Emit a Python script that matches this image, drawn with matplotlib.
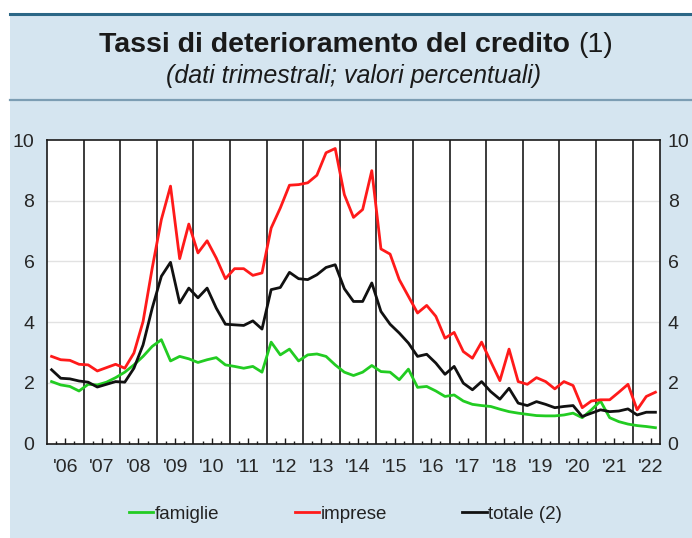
import numpy as np
import pandas as pd
import matplotlib.pyplot as plt
from matplotlib.patches import Rectangle
from matplotlib.lines import Line2D

# quarterly data, 2006Q1 - 2022Q3 (percent)
quarters = pd.period_range('2006Q1', '2022Q3', freq='Q')

famiglie = [2.04, 1.93, 1.88, 1.73, 1.95, 1.93, 2.02, 2.17, 2.35, 2.59,
            2.87, 3.20, 3.42, 2.72, 2.87, 2.79, 2.67, 2.76, 2.83, 2.59,
            2.54, 2.48, 2.54, 2.35, 3.34, 2.92, 3.11, 2.72, 2.92, 2.95,
            2.87, 2.59, 2.35, 2.24, 2.35, 2.57, 2.37, 2.35, 2.10, 2.45,
            1.85, 1.88, 1.73, 1.55, 1.60, 1.40, 1.29, 1.25, 1.22, 1.13,
            1.05, 1.00, 0.96, 0.92, 0.91, 0.91, 0.94, 1.00, 0.85, 1.11,
            1.40, 0.85, 0.72, 0.64, 0.59, 0.56, 0.52]

imprese = [2.87, 2.76, 2.74, 2.61, 2.59, 2.39, 2.50, 2.61, 2.48, 2.98,
           4.02, 5.78, 7.38, 8.48, 6.09, 7.23, 6.28, 6.68, 6.11, 5.43,
           5.76, 5.76, 5.54, 5.62, 7.10, 7.76, 8.51, 8.53, 8.59, 8.84,
           9.58, 9.72, 8.20, 7.45, 7.71, 8.99, 6.41, 6.24, 5.40, 4.85,
           4.30, 4.55, 4.19, 3.47, 3.66, 3.03, 2.81, 3.34, 2.70, 2.07,
           3.11, 2.04, 1.95, 2.17, 2.04, 1.80, 2.04, 1.91, 1.18, 1.40,
           1.44, 1.44, 1.69, 1.95, 1.11, 1.55, 1.69]

totale = [2.43, 2.15, 2.13, 2.06, 2.02, 1.86, 1.95, 2.04, 2.02, 2.48,
          3.25, 4.46, 5.51, 5.97, 4.63, 5.12, 4.80, 5.12, 4.46, 3.93,
          3.91, 3.89, 4.04, 3.77, 5.07, 5.14, 5.64, 5.43, 5.40, 5.56,
          5.80, 5.89, 5.10, 4.68, 4.68, 5.29, 4.35, 3.93, 3.64, 3.31,
          2.87, 2.94, 2.65, 2.28, 2.54, 1.99, 1.77, 2.04, 1.71, 1.46,
          1.82, 1.33, 1.25, 1.38, 1.29, 1.18, 1.22, 1.25, 0.89, 1.00,
          1.11, 1.05, 1.07, 1.14, 0.94, 1.03, 1.03]

years = list(range(2006, 2023))
year_labels = ["'%02d" % (y % 100) for y in years]
y_ticks = [0, 2, 4, 6, 8, 10]

plt.rcParams['font.family'] = ['Liberation Sans', 'DejaVu Sans']

W, H = 692, 538
fig = plt.figure(figsize=(W / 100, H / 100), dpi=100, facecolor='white')

# light blue panel and header lines
panel = '#d5e5f0'
fig.patches.append(Rectangle((10 / W, 0), 1, 1 - 14 / H, transform=fig.transFigure,
                             facecolor=panel, edgecolor='none', zorder=-10))
fig.add_artist(Line2D([10 / W, 1], [1 - 14 / H] * 2, color='#2b6786', lw=2.2))
fig.add_artist(Line2D([10 / W, 1], [1 - 100 / H] * 2, color='#7c9db3', lw=1.6))

# title: bold part + regular "(1)"
renderer = fig.canvas.get_renderer()
t1 = fig.text(0, 1 - 45 / H, 'Tassi di deterioramento del credito ', fontsize=20.5,
              fontweight='bold', color='#1a1a1a', va='center', ha='left')
t2 = fig.text(0, 1 - 45 / H, '(1)', fontsize=20.5, color='#1a1a1a', va='center', ha='left')
w1 = t1.get_window_extent(renderer).width
w2 = t2.get_window_extent(renderer).width
x0 = 356 - (w1 + w2) / 2
t1.set_x(x0 / W)
t2.set_x((x0 + w1) / W)
fig.text(354 / W, 1 - 76 / H, '(dati trimestrali; valori percentuali)', fontsize=18,
         style='italic', color='#1a1a1a', ha='center', va='center')

ax = fig.add_axes([47 / W, 1 - 443.5 / H, (660 - 47) / W, (443.5 - 140) / H])
ax.set_facecolor('white')

x = np.array([q.year + (q.quarter - 0.5) / 4 for q in quarters])
ax.plot(x, famiglie, color='#22cc22', lw=2.0, label='famiglie', zorder=4)
ax.plot(x, imprese, color='#ff1a1a', lw=2.0, label='imprese', zorder=4)
ax.plot(x, totale, color='#111111', lw=2.0, label='totale (2)', zorder=5)

for y in years[1:]:
    ax.axvline(y, color='#1a1a1a', lw=1.2, zorder=3)
for v in y_ticks[1:-1]:
    ax.axhline(v, color='#e2e2e2', lw=1.0, zorder=1)

ax.set_xlim(2006, 2022.75)
ax.set_ylim(0, 10)
for s in ax.spines.values():
    s.set_color('#1a1a1a')
    s.set_linewidth(1.2)

ax.set_xticks([y + 0.5 for y in years])
ax.set_xticklabels(year_labels)
ax.set_xticks([y + q for y in years for q in (0.25, 0.75)
               if y + q < 2022.75], minor=True)
ax.tick_params(axis='x', which='major', direction='in', length=4.5, width=1,
               pad=11, labelsize=14, labelcolor='#262626', color='#1a1a1a')
ax.tick_params(axis='x', which='minor', direction='in', length=2.5, width=1,
               color='#1a1a1a')

ax.set_yticks(y_ticks)
ax.tick_params(axis='y', which='both', length=0, pad=9, labelsize=14,
               labelcolor='#262626', right=False, labelright=False)

# right-hand scale, a bit closer so "10" stays inside the picture
ax_r = ax.secondary_yaxis('right')
ax_r.set_yticks(y_ticks)
ax_r.spines['right'].set_visible(False)
ax_r.tick_params(axis='y', length=0, pad=5.5, labelsize=14, labelcolor='#262626')

fig.legend(loc='center', bbox_to_anchor=(345.5 / W, 1 - 514 / H), ncol=3,
           frameon=False, fontsize=13.5, handlelength=1.3, handletextpad=0.1,
           columnspacing=4.0, labelcolor='#222222')

fig.savefig('out.png', dpi=100, facecolor='white')
